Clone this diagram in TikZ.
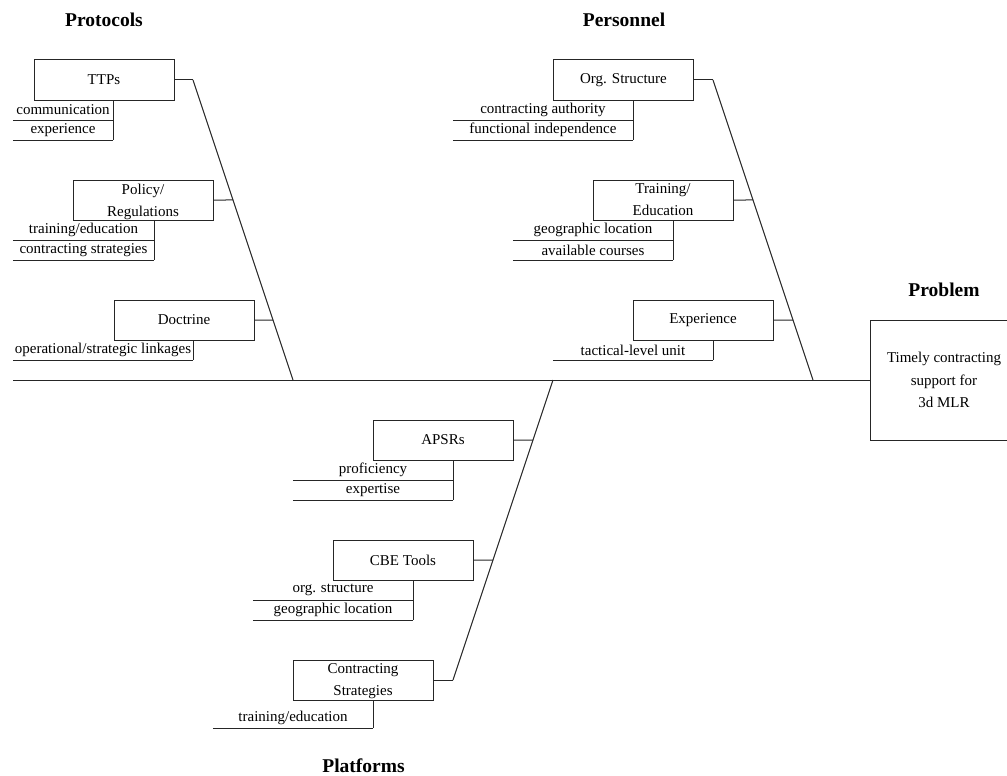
\documentclass[tikz,border=0pt]{standalone}
\usepackage{fontspec}
\setmainfont{Liberation Serif}
\usetikzlibrary{calc}
\begin{document}
\begin{tikzpicture}[x=1pt,y=-1pt,
  line/.style={draw=black!85, line width=1pt},
  cause/.style={draw=black!85, line width=1pt, fill=white, minimum width=140pt,
    minimum height=40pt, inner sep=0pt, align=center,
    font=\fontsize{15}{22}\selectfont},
  twoline/.style={text depth=0pt},
  sub/.style={inner sep=0pt, minimum height=20pt, font=\fontsize{15}{18}\selectfont},
  head/.style={font=\fontsize{19.5}{22}\selectfont\bfseries}]
\useasboundingbox (0,0) rectangle (1007,776);

% category headings
\node[head] (hprot) at (104,20) {Protocols};
\node[head] (hpers) at (624,20) {Personnel};
\node[head] (hprob) at (944,290) {Problem};
\node[head] (hplat) at (363.5,766) {Platforms};

% problem box and spine
\node[draw=black!85, line width=1pt, minimum width=148pt, minimum height=120pt,
  inner sep=0pt, align=center, font=\fontsize{15}{22.5}\selectfont] (prob) at (944,380)
  {Timely contracting\\support for\\3d MLR};
\coordinate (spine) at (13,380);
\draw[line] (spine) -- (prob.west);

% bone end points
\coordinate (pt) at (193,80);  \coordinate (pb) at (293,380);
\coordinate (nt) at (713,80);  \coordinate (nb) at (813,380);
\coordinate (ft) at (453,680); \coordinate (fb) at (553,380);
\draw[line] (pt) -- (pb);
\draw[line] (nt) -- (nb);
\draw[line] (ft) -- (fb);

% ---------- Protocols ----------
\node[cause] (ttps) at (104,80) {TTPs};
\node[cause, twoline] (pol) at (143,200) {Policy/\\Regulations};
\node[cause] (doc) at (184,320) {Doctrine};

\node[sub, minimum width=100pt] (ttpA) at (63,110) {communication};
\node[sub, minimum width=100pt] (ttpB) at (63,130) {experience};
\node[sub, minimum width=141pt] (polA) at (83.5,230) {training/education};
\node[sub, minimum width=141pt] (polB) at (83.5,250) {contracting strategies};
\node[sub, minimum width=180pt] (docA) at (103,350) {operational/strategic linkages};

% ---------- Personnel ----------
\node[cause] (org) at (623.5,80) {Org. Structure};
\node[cause, twoline] (trn) at (663,200) {Training/\\Education};
\node[cause] (exp) at (703,320) {Experience};

\node[sub, minimum width=180pt] (orgA) at (543,110) {contracting authority};
\node[sub, minimum width=180pt] (orgB) at (543,130) {functional independence};
\node[sub, minimum width=160pt] (trnA) at (593,230) {geographic location};
\node[sub, minimum width=160pt] (trnB) at (593,250) {available courses};
\node[sub, minimum width=160pt] (expA) at (633,350) {tactical-level unit};

% ---------- Platforms ----------
\node[cause] (apsr) at (443,440) {APSRs};
\node[cause] (cbe) at (403,560) {CBE Tools};
\node[cause, twoline] (cst) at (363,680) {Contracting\\Strategies};

\node[sub, minimum width=160pt] (apsrA) at (373,470) {proficiency};
\node[sub, minimum width=160pt] (apsrB) at (373,490) {expertise};
\node[sub, minimum width=160pt] (cbeA) at (333,590) {org. structure};
\node[sub, minimum width=160pt] (cbeB) at (333,610) {geographic location};
\node[sub, minimum width=160pt] (cstA) at (293,718) {training/education};

% cause to bone connectors (fraction along each bone)
\foreach \b/\s/\e/\f in {ttps/pt/pb/0, pol/pt/pb/0.4, doc/pt/pb/0.8,
                         org/nt/nb/0, trn/nt/nb/0.4, exp/nt/nb/0.8,
                         apsr/ft/fb/0.8, cbe/ft/fb/0.4, cst/ft/fb/0}
  \draw[line] (\b.east) -- ($(\s)!\f!(\e)$);

% sub-cause underlines
\foreach \n in {ttpA,ttpB,polA,polB,docA,orgA,orgB,trnA,trnB,expA,
                apsrA,apsrB,cbeA,cbeB,cstA}
  \draw[line] (\n.south west) -- (\n.south east);

% sub-cause stems from each box
\foreach \b/\l in {ttps/ttpB, pol/polB, doc/docA, org/orgB, trn/trnB,
                   exp/expA, apsr/apsrB, cbe/cbeB, cst/cstA}
  \draw[line] (\b.south -| \l.south east) -- (\l.south east);
\end{tikzpicture}
\end{document}
